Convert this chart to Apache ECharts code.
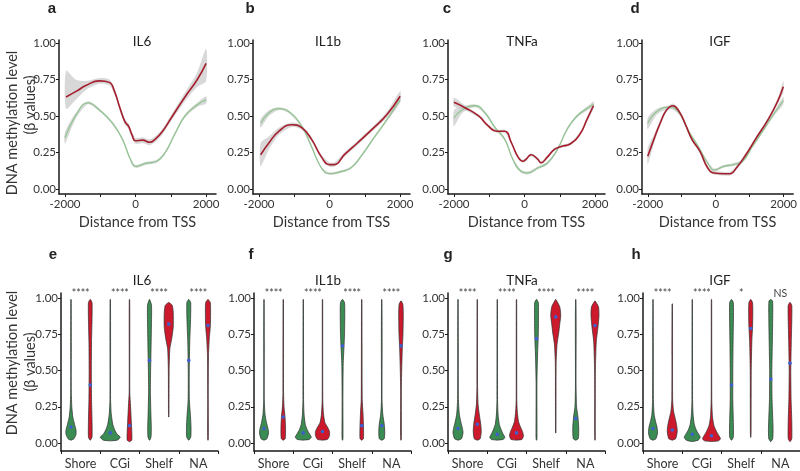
<!DOCTYPE html>
<html><head><meta charset="utf-8">
<script src="https://cdn.jsdelivr.net/npm/echarts@6/dist/echarts.min.js"></script>
<style>html,body{margin:0;padding:0;background:#fff}#c{width:800px;height:471px}</style>
</head><body><div id="c"></div><script>
// ---------------- DATA ----------------
const genes = ['IL6', 'IL1b', 'TNFa', 'IGF'];
const lettersTop = ['a', 'b', 'c', 'd'];
const lettersBottom = ['e', 'f', 'g', 'h'];
const categories = ['Shore', 'CGi', 'Shelf', 'NA'];
const topXTicks = [-2000, -1000, 0, 1000, 2000];
const topXLabels = [-2000, 0, 2000];
const yTicks = [0, 0.25, 0.5, 0.75, 1];

// smoothed methylation profiles [distance, beta]
const lineIL6Red = [[-1970,0.63],[-1674,0.67],[-1395,0.71],[-1023,0.74],[-744,0.73],[-600,0.67],[-450,0.56],[-300,0.46],[-200,0.43],[-100,0.37],[0,0.33],[200,0.335],[400,0.32],[550,0.34],[750,0.39],[1020,0.49],[1400,0.63],[1750,0.75],[2000,0.86]];
const lineIL6Green = [[-2000,0.35],[-1700,0.50],[-1350,0.59],[-1020,0.54],[-650,0.45],[-370,0.34],[-140,0.20],[0,0.155],[280,0.175],[600,0.19],[840,0.25],[1120,0.38],[1400,0.50],[1770,0.58],[2000,0.61]];
const lineIL1bRed = [[-1953,0.235],[-1720,0.315],[-1440,0.395],[-1070,0.44],[-790,0.42],[-510,0.34],[-230,0.22],[0,0.167],[140,0.167],[420,0.235],[790,0.315],[1256,0.42],[1628,0.51],[2000,0.635]];
const lineIL1bGreen = [[-1953,0.45],[-1720,0.52],[-1440,0.55],[-1160,0.53],[-790,0.43],[-510,0.29],[-230,0.144],[0,0.105],[330,0.12],[600,0.144],[880,0.22],[1256,0.35],[1628,0.475],[2000,0.61]];
const lineTNFaRed = [[-2000,0.594],[-1674,0.555],[-1302,0.50],[-1023,0.43],[-790,0.395],[-560,0.395],[-370,0.315],[-186,0.22],[-47,0.19],[47,0.205],[186,0.235],[372,0.205],[465,0.18],[650,0.22],[837,0.27],[1023,0.29],[1302,0.31],[1580,0.38],[1767,0.475],[1953,0.57]];
const lineTNFaGreen = [[-2000,0.486],[-1767,0.543],[-1395,0.57],[-1116,0.52],[-837,0.42],[-560,0.34],[-326,0.20],[-93,0.12],[93,0.11],[372,0.144],[650,0.178],[930,0.27],[1209,0.41],[1488,0.50],[1860,0.566],[1953,0.58]];
const lineIGFRed = [[-2000,0.224],[-1820,0.34],[-1636,0.45],[-1450,0.54],[-1262,0.57],[-1075,0.53],[-888,0.44],[-700,0.34],[-467,0.26],[-234,0.144],[-47,0.11],[234,0.105],[420,0.105],[607,0.144],[888,0.235],[1168,0.34],[1542,0.475],[1822,0.60],[1990,0.70]];
const lineIGFGreen = [[-2000,0.45],[-1730,0.53],[-1355,0.56],[-1075,0.52],[-794,0.395],[-514,0.29],[-234,0.178],[-47,0.13],[234,0.155],[514,0.167],[794,0.19],[1075,0.29],[1449,0.42],[1729,0.52],[1990,0.605]];

// confidence bands [distance, lower, upper]
const bandIL6Red = [[-1970,0.55,0.81],[-1700,0.61,0.75],[-1395,0.68,0.74],[-1023,0.72,0.76],[-744,0.71,0.75],[-600,0.65,0.69],[-450,0.54,0.58],[-300,0.44,0.48],[-200,0.41,0.45],[-100,0.35,0.39],[0,0.31,0.35],[200,0.315,0.355],[400,0.30,0.34],[550,0.32,0.36],[750,0.37,0.41],[1020,0.47,0.51],[1400,0.60,0.66],[1750,0.70,0.80],[2000,0.74,0.96]];
const bandIL6Green = [[-2000,0.31,0.39],[-1700,0.48,0.52],[-1350,0.58,0.60],[-1020,0.53,0.55],[-650,0.44,0.46],[-370,0.33,0.35],[-140,0.19,0.21],[0,0.145,0.165],[280,0.165,0.185],[600,0.18,0.20],[840,0.24,0.26],[1120,0.37,0.39],[1400,0.49,0.51],[1770,0.565,0.595],[2000,0.585,0.635]];
const bandIL1bRed = [[-1953,0.155,0.315],[-1720,0.27,0.36],[-1440,0.37,0.42],[-1070,0.425,0.455],[-790,0.405,0.435],[-510,0.325,0.355],[-230,0.205,0.235],[0,0.152,0.182],[140,0.152,0.182],[420,0.22,0.25],[790,0.30,0.33],[1256,0.405,0.435],[1628,0.49,0.53],[2000,0.60,0.67]];
const bandIL1bGreen = [[-1953,0.42,0.48],[-1720,0.50,0.54],[-1440,0.54,0.56],[-1160,0.52,0.54],[-790,0.42,0.44],[-510,0.28,0.30],[-230,0.135,0.153],[0,0.097,0.113],[330,0.112,0.128],[600,0.136,0.152],[880,0.21,0.23],[1256,0.34,0.36],[1628,0.465,0.485],[2000,0.59,0.63]];
const bandTNFaRed = [[-2000,0.565,0.625],[-1674,0.54,0.57],[-1302,0.49,0.51],[-1023,0.42,0.44],[-790,0.385,0.405],[-560,0.385,0.405],[-370,0.305,0.325],[-186,0.21,0.23],[-47,0.18,0.20],[47,0.195,0.215],[186,0.225,0.245],[372,0.195,0.215],[465,0.17,0.19],[650,0.21,0.23],[837,0.26,0.28],[1023,0.28,0.30],[1302,0.30,0.32],[1580,0.37,0.39],[1767,0.46,0.49],[1953,0.55,0.59]];
const bandTNFaGreen = [[-2000,0.43,0.54],[-1767,0.52,0.565],[-1395,0.56,0.58],[-1116,0.51,0.53],[-837,0.41,0.43],[-560,0.33,0.35],[-326,0.19,0.21],[-93,0.11,0.13],[93,0.10,0.12],[372,0.134,0.154],[650,0.168,0.188],[930,0.26,0.28],[1209,0.40,0.42],[1488,0.49,0.51],[1860,0.55,0.58],[1953,0.56,0.60]];
const bandIGFRed = [[-2000,0.17,0.28],[-1820,0.31,0.37],[-1636,0.43,0.47],[-1450,0.525,0.555],[-1262,0.555,0.585],[-1075,0.515,0.545],[-888,0.425,0.455],[-700,0.325,0.355],[-467,0.245,0.275],[-234,0.13,0.158],[-47,0.097,0.123],[234,0.092,0.118],[420,0.092,0.118],[607,0.13,0.158],[888,0.22,0.25],[1168,0.325,0.355],[1542,0.46,0.49],[1822,0.58,0.62],[1990,0.66,0.74]];
const bandIGFGreen = [[-2000,0.41,0.49],[-1730,0.51,0.55],[-1355,0.55,0.57],[-1075,0.51,0.53],[-794,0.385,0.405],[-514,0.28,0.30],[-234,0.168,0.188],[-47,0.12,0.14],[234,0.145,0.165],[514,0.157,0.177],[794,0.18,0.20],[1075,0.28,0.30],[1449,0.41,0.43],[1729,0.505,0.535],[1990,0.58,0.63]];

// violin density profiles per category (Shore, CGi, Shelf, NA): [beta, relative density]
const violinIL6Green = [
  [[0.02,0],[0.03,3],[0.06,5],[0.09,5],[0.13,3.5],[0.18,1.8],[0.25,0.8],[0.35,0.3],[0.7,0.3],[0.99,0]],
  [[0.015,0],[0.02,7],[0.04,10],[0.06,7],[0.09,4.5],[0.13,2.5],[0.2,1],[0.3,0.3],[0.7,0.3],[0.99,0]],
  [[0.02,0],[0.04,1.5],[0.1,1.8],[0.2,1.4],[0.35,0.9],[0.5,1.1],[0.6,1.4],[0.8,1.9],[0.95,2],[0.99,0]],
  [[0.02,0],[0.04,2],[0.1,2.3],[0.18,1.8],[0.3,0.6],[0.5,0.5],[0.7,1],[0.85,1.8],[0.97,1.9],[0.99,0]]];
const violinIL6Red = [
  [[0.02,0],[0.04,1.8],[0.15,1.8],[0.3,1.3],[0.5,1.1],[0.7,1.3],[0.85,1.8],[0.97,1.8],[0.99,0]],
  [[0.01,0],[0.02,2.3],[0.08,2.3],[0.15,1.8],[0.25,1.1],[0.35,0.3],[0.8,0.3],[0.99,0]],
  [[0.18,0],[0.3,0.3],[0.5,0.4],[0.65,1.1],[0.72,3],[0.8,4.5],[0.9,4.5],[0.95,3.5],[0.97,0]],
  [[0.02,0],[0.05,0.4],[0.3,0.3],[0.6,0.5],[0.72,1.3],[0.8,2.3],[0.9,2.6],[0.97,2.3],[0.99,0]]];
const violinIL1bGreen = [
  [[0.02,0],[0.03,3],[0.07,4.5],[0.1,4],[0.14,2.5],[0.2,1],[0.3,0.3],[0.7,0.3],[0.99,0]],
  [[0.02,0],[0.025,6],[0.04,8],[0.06,6.5],[0.09,4],[0.13,2],[0.2,0.8],[0.3,0.3],[0.99,0]],
  [[0.02,0],[0.04,0.5],[0.3,0.4],[0.55,0.7],[0.65,1.4],[0.75,2],[0.9,2.3],[0.97,2],[0.99,0]],
  [[0.02,0],[0.03,2.5],[0.08,3],[0.13,2.5],[0.2,1],[0.3,0.3],[0.7,0.4],[0.99,0]]];
const violinIL1bRed = [
  [[0.02,0],[0.03,2],[0.1,2.3],[0.18,1.8],[0.25,0.8],[0.35,0.3],[0.99,0]],
  [[0.02,0],[0.025,5],[0.05,7],[0.08,7],[0.11,5],[0.14,2.5],[0.2,1],[0.3,0.3],[0.99,0]],
  [[0.02,0],[0.03,1.7],[0.1,1.8],[0.2,1.3],[0.3,0.5],[0.7,0.3],[0.99,0]],
  [[0.02,0],[0.05,0.4],[0.4,0.4],[0.65,1.3],[0.75,2],[0.9,2.3],[0.96,1.8],[0.98,0]]];
const violinTNFaGreen = [
  [[0.02,0],[0.03,3.5],[0.07,5],[0.1,4.5],[0.14,3],[0.2,1.3],[0.3,0.4],[0.7,0.3],[0.99,0]],
  [[0.02,0],[0.025,6],[0.04,7.5],[0.06,6],[0.09,4],[0.13,2],[0.2,0.8],[0.3,0.3],[0.99,0]],
  [[0.02,0],[0.04,0.5],[0.4,0.4],[0.6,1],[0.75,1.8],[0.9,2],[0.97,1.8],[0.99,0]],
  [[0.02,0],[0.03,2.5],[0.1,3],[0.18,2.2],[0.25,0.8],[0.4,0.3],[0.8,0.4],[0.99,0]]];
const violinTNFaRed = [
  [[0.02,0],[0.03,3],[0.08,4],[0.13,3.5],[0.2,2],[0.27,0.8],[0.4,0.3],[0.99,0]],
  [[0.02,0],[0.025,5.5],[0.05,7],[0.08,6],[0.11,4],[0.15,2],[0.22,0.8],[0.3,0.3],[0.99,0]],
  [[0.07,0],[0.3,0.3],[0.55,0.4],[0.68,1.3],[0.76,3],[0.82,4],[0.88,5],[0.94,4],[0.99,0]],
  [[0.02,0],[0.05,0.3],[0.5,0.4],[0.7,1.3],[0.8,3],[0.88,4],[0.94,3.5],[0.98,0]]];
const violinIGFGreen = [
  [[0.02,0],[0.03,3],[0.07,4.5],[0.11,4],[0.15,2.5],[0.2,1.1],[0.3,0.4],[0.7,0.3],[0.99,0]],
  [[0.01,0],[0.02,6],[0.04,8],[0.06,6.5],[0.09,4],[0.13,2],[0.2,0.8],[0.3,0.3],[0.99,0]],
  [[0.02,0],[0.04,1.8],[0.1,2],[0.3,1.3],[0.5,1.3],[0.7,1.6],[0.9,2],[0.97,1.8],[0.99,0]],
  [[0.01,0],[0.03,2],[0.1,2.3],[0.3,1.3],[0.5,1.1],[0.7,1.6],[0.9,2],[0.98,1.8],[0.99,0]]];
const violinIGFRed = [
  [[0.02,0],[0.03,3.5],[0.08,5],[0.12,4.5],[0.17,3],[0.22,1.3],[0.3,0.4],[0.6,0.3],[0.96,0]],
  [[0.01,0],[0.015,7],[0.03,9],[0.05,7.5],[0.08,5],[0.12,2.5],[0.18,1],[0.3,0.3],[0.99,0]],
  [[0.04,0],[0.1,0.4],[0.5,0.5],[0.7,1.1],[0.8,1.8],[0.9,2.1],[0.97,1.8],[0.99,0]],
  [[0.01,0],[0.03,1.8],[0.15,1.8],[0.3,1.1],[0.5,0.8],[0.7,1.3],[0.85,1.8],[0.95,1.8],[0.97,0]]];

// group means per category
const meanIL6Green = [0.11, 0.07, 0.57, 0.57];
const meanIL6Red = [0.40, 0.12, 0.82, 0.81];
const meanIL1bGreen = [0.10, 0.07, 0.67, 0.12];
const meanIL1bRed = [0.18, 0.08, 0.12, 0.67];
const meanTNFaGreen = [0.10, 0.06, 0.72, 0.17];
const meanTNFaRed = [0.13, 0.07, 0.87, 0.81];
const meanIGFGreen = [0.10, 0.06, 0.40, 0.44];
const meanIGFRed = [0.09, 0.05, 0.79, 0.55];

// significance labels
const signifIL6 = ['****', '****', '****', '****'];
const signifIL1b = ['****', '****', '****', '****'];
const signifTNFa = ['****', '****', '****', '****'];
const signifIGF = ['****', '****', '*', 'NS'];

// ---------------- BUILD ----------------
const linesRed = [lineIL6Red, lineIL1bRed, lineTNFaRed, lineIGFRed];
const linesGreen = [lineIL6Green, lineIL1bGreen, lineTNFaGreen, lineIGFGreen];
const bandsRed = [bandIL6Red, bandIL1bRed, bandTNFaRed, bandIGFRed];
const bandsGreen = [bandIL6Green, bandIL1bGreen, bandTNFaGreen, bandIGFGreen];
const violinsGreen = [violinIL6Green, violinIL1bGreen, violinTNFaGreen, violinIGFGreen];
const violinsRed = [violinIL6Red, violinIL1bRed, violinTNFaRed, violinIGFRed];
const meansGreen = [meanIL6Green, meanIL1bGreen, meanTNFaGreen, meanIGFGreen];
const meansRed = [meanIL6Red, meanIL1bRed, meanTNFaRed, meanIGFRed];
const signifs = [signifIL6, signifIL1b, signifTNFa, signifIGF];

const FONT = 'Lato';
const TXT = '#333';
const AX = '#1a1a1a';
const RED_LINE = '#a51e2d', GREEN_LINE = '#92c492', BAND = 'rgba(190,190,190,0.6)';
const GREEN_FILL = '#3b8c52', RED_FILL = '#cc1a2c', OUTLINE = '#2e2e2e', MEAN = '#3f5fd0';
const topLeft = [59, 253, 448, 642];
const botLeft = [61, 254, 448, 643];
const W = 157;
const DODGE = 0.245;
const WSCALE = 1.0;

const grid = [], xAxis = [], yAxis = [], series = [], graphic = [];

function axisCommon() {
  return {
    axisLine: { show: true, onZero: false, lineStyle: { color: AX, width: 1.5 } },
    splitLine: { show: false }
  };
}

for (let i = 0; i < 4; i++) {
  grid.push({ left: topLeft[i], top: 40, width: W, height: 154 });
  xAxis.push(Object.assign(axisCommon(), {
    gridIndex: i, type: 'value', min: -2170, max: 2280,
    axisTick: { show: true, length: 3, customValues: topXTicks, lineStyle: { color: AX } },
    axisLabel: { customValues: topXLabels, formatter: v => String(v), fontSize: 11.5, color: TXT, margin: 4, fontFamily: FONT },
    name: 'Distance from TSS', nameLocation: 'middle', nameGap: 21,
    nameTextStyle: { fontSize: 14.5, color: TXT, fontFamily: FONT }
  }));
  yAxis.push(Object.assign(axisCommon(), {
    gridIndex: i, type: 'value', min: -0.034, max: 1.02,
    axisTick: { show: true, length: 3, customValues: yTicks, lineStyle: { color: AX } },
    axisLabel: { customValues: yTicks, formatter: v => v.toFixed(2), fontSize: 11.5, color: TXT, margin: 3, fontFamily: FONT }
  }));
  [bandsGreen[i], bandsRed[i]].forEach(b => {
    series.push({
      type: 'custom', xAxisIndex: i, yAxisIndex: i, z: 1, silent: true,
      data: [[b[0][0], b[0][1]]], encode: { x: 0, y: 1 },
      renderItem: function (params, api) {
        const up = b.map(d => api.coord([d[0], d[2]]));
        const lo = b.slice().reverse().map(d => api.coord([d[0], d[1]]));
        return { type: 'polygon', shape: { points: up.concat(lo), smooth: 0.25 }, style: { fill: BAND } };
      }
    });
  });
  series.push({ type: 'line', xAxisIndex: i, yAxisIndex: i, smooth: true, symbol: 'none',
    lineStyle: { color: GREEN_LINE, width: 1.3 }, data: linesGreen[i], z: 3 });
  series.push({ type: 'line', xAxisIndex: i, yAxisIndex: i, smooth: true, symbol: 'none',
    lineStyle: { color: RED_LINE, width: 1.6 }, data: linesRed[i], z: 4 });
}

for (let i = 0; i < 4; i++) {
  const gi = 4 + i;
  grid.push({ left: botLeft[i], top: 293, width: W, height: 158 });
  xAxis.push(Object.assign(axisCommon(), {
    gridIndex: gi, type: 'category', data: categories, boundaryGap: true,
    axisTick: { show: true, length: 3, alignWithLabel: false, lineStyle: { color: AX } },
    axisLabel: { fontSize: 12.5, color: TXT, margin: 6, fontFamily: FONT, interval: 0 }
  }));
  yAxis.push(Object.assign(axisCommon(), {
    gridIndex: gi, type: 'value', min: -0.055, max: 1.035,
    axisTick: { show: true, length: 3, customValues: yTicks, lineStyle: { color: AX } },
    axisLabel: { customValues: yTicks, formatter: v => v.toFixed(2), fontSize: 11.5, color: TXT, margin: 3, fontFamily: FONT }
  }));
  const data = [];
  for (let c = 0; c < 4; c++) {
    data.push([c, 0, meansGreen[i][c]]);
    data.push([c, 1, meansRed[i][c]]);
  }
  series.push({
    type: 'custom', xAxisIndex: gi, yAxisIndex: gi, data: data, encode: { x: 0, y: 2 }, z: 5,
    renderItem: function (params, api) {
      const c = api.value(0), g = api.value(1), m = api.value(2);
      const prof = (g === 0 ? violinsGreen[i] : violinsRed[i])[c];
      const bw = api.size([1, 0])[0];
      const cx = api.coord([c, 0])[0] + (g === 0 ? -1 : 1) * bw * DODGE;
      const right = prof.map(p => [cx + Math.max(p[1], 0.2) * WSCALE, api.coord([c, p[0]])[1]]);
      const left = prof.slice().reverse().map(p => [cx - Math.max(p[1], 0.2) * WSCALE, api.coord([c, p[0]])[1]]);
      return {
        type: 'group', children: [
          { type: 'polygon', shape: { points: right.concat(left), smooth: 0.2 },
            style: { fill: g === 0 ? GREEN_FILL : RED_FILL, stroke: OUTLINE, lineWidth: 0.7 } },
          { type: 'circle', shape: { cx: cx, cy: api.coord([c, m])[1], r: 1.8 }, style: { fill: MEAN } }
        ]
      };
    }
  });
  series.push({
    type: 'custom', xAxisIndex: gi, yAxisIndex: gi, z: 6,
    data: categories.map((n, c) => [c, 1.0]), encode: { x: 0, y: 1 },
    renderItem: function (params, api) {
      const p = api.coord([api.value(0), 1.0]);
      return { type: 'text', x: p[0], y: p[1] - 4,
        style: { text: signifs[i][params.dataIndex], textAlign: 'center', textVerticalAlign: 'middle',
          fontSize: 10.5, fill: '#444', fontFamily: FONT } };
    }
  });
}

// panel letters, titles, axis names
const letterX = [52, 250, 447, 635];
const titleX = [142, 328, 522, 720];
for (let i = 0; i < 4; i++) {
  graphic.push({ type: 'text', z: 100, x: letterX[i], y: 9, style: { text: lettersTop[i], textAlign: 'center', textVerticalAlign: 'middle', fontSize: 15, fontWeight: 'bold', fill: '#222', fontFamily: 'Liberation Sans' } });
  graphic.push({ type: 'text', z: 100, x: letterX[i] + 1, y: 255, style: { text: lettersBottom[i], textAlign: 'center', textVerticalAlign: 'middle', fontSize: 15, fontWeight: 'bold', fill: '#222', fontFamily: 'Liberation Sans' } });
  graphic.push({ type: 'text', z: 100, x: titleX[i], y: 42, style: { text: genes[i], textAlign: 'center', textVerticalAlign: 'middle', fontSize: 13.5, fill: '#222', fontFamily: FONT } });
  graphic.push({ type: 'text', z: 100, x: titleX[i], y: 281, style: { text: genes[i], textAlign: 'center', textVerticalAlign: 'middle', fontSize: 13.5, fill: '#222', fontFamily: FONT } });
}
[[12, 123, 'DNA methylation level'], [30, 105, '(β values)'], [12, 363, 'DNA methylation level'], [30, 362, '(β values)']].forEach(t => {
  graphic.push({ type: 'text', z: 100, x: t[0], y: t[1], rotation: Math.PI / 2,
    style: { text: t[2], textAlign: 'center', textVerticalAlign: 'middle', fontSize: 14.5, fill: TXT, fontFamily: FONT } });
});

const chart = echarts.init(document.getElementById('c'), null, { renderer: 'canvas' });
chart.setOption({
  animation: false,
  backgroundColor: '#fff',
  textStyle: { fontFamily: FONT },
  grid, xAxis, yAxis, series, graphic
});
</script></body></html>
